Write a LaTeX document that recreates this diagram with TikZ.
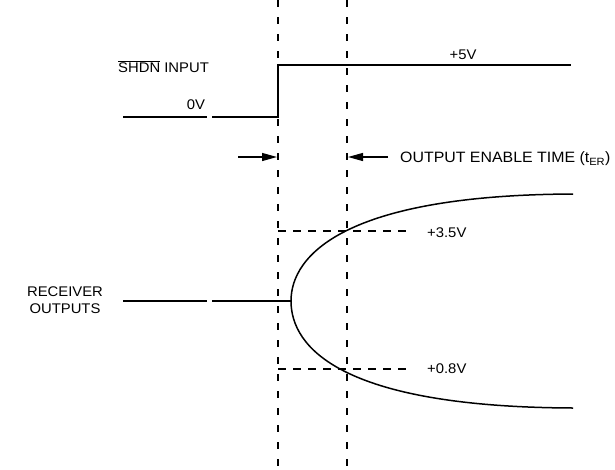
\documentclass[tikz,border=0pt]{standalone}
\usepackage{fontspec}
\setmainfont[FakeStretch=1.06]{Liberation Sans}
\usetikzlibrary{arrows.meta}
\begin{document}
\begin{tikzpicture}[x=1pt,y=-1pt,
  lbl/.style={font=\fontsize{14}{17}\selectfont, inner sep=0pt},
  biglbl/.style={font=\fontsize{15}{18}\selectfont, inner sep=0pt},
  sig/.style={line width=1.8pt},
  vguide/.style={line width=1.4pt, dash pattern=on 7pt off 10pt},
  hguide/.style={line width=1.2pt, dash pattern=on 8pt off 7pt},
  marker/.style={line width=1.2pt, -{Triangle[length=15pt,width=8pt]}}]
\useasboundingbox (0,0) rectangle (615,469);
% vertical guides
\coordinate (g1t) at (278,0);  \coordinate (g1b) at (278,469);
\coordinate (g2t) at (347,0);  \coordinate (g2b) at (347,469);
\draw[vguide] (g1t) -- (g1b);
\draw[vguide] (g2t) -- (g2b);
% SHDN input
\node[lbl, anchor=west] (shdn) at (118,67) {$\overline{\mbox{SHDN}}$ INPUT};
\node[lbl] (zero) at (196,105) {0V};
\node[lbl] (five) at (463,55) {+5V};
\coordinate (a0) at (123,117); \coordinate (a1) at (207,117);
\coordinate (a2) at (212,117); \coordinate (a3) at (278,117);
\coordinate (a4) at (278,65);  \coordinate (a5) at (571,65);
\draw[sig] (a0) -- (a1);
\draw[sig] (a2) -- (a3) -- (a4) -- (a5);
% enable-time markers
\coordinate (m1) at (238,157); \coordinate (m2) at (277,157);
\coordinate (m3) at (388,157); \coordinate (m4) at (348,157);
\draw[marker] (m1) -- (m2);
\draw[marker] (m3) -- (m4);
\node[biglbl, anchor=west] (oet) at (400,159) {OUTPUT ENABLE TIME (t\textsubscript{ER})};
% receiver outputs
\node[lbl, align=center] (rcv) at (65,300) {RECEIVER\\OUTPUTS};
\coordinate (r0) at (123,301); \coordinate (r1) at (207,301);
\coordinate (r2) at (212,301); \coordinate (v) at (291,301);
\coordinate (top) at (573,194); \coordinate (bot) at (573,408);
\draw[sig] (r0) -- (r1);
\draw[sig] (r2) -- (v);
\draw[line width=1.5pt] (top) .. controls (345,195) and (291,255) .. (v)
      .. controls (291,347) and (340,407) .. (bot);
% threshold guides
\coordinate (h1a) at (278,231); \coordinate (h1b) at (410,231);
\coordinate (h2a) at (278,369); \coordinate (h2b) at (410,369);
\draw[hguide] (h1a) -- (h1b);
\draw[hguide] (h2a) -- (h2b);
\node[lbl, anchor=west] (v35) at (427,233) {+3.5V};
\node[lbl, anchor=west] (v08) at (427,369) {+0.8V};
\end{tikzpicture}
\end{document}
